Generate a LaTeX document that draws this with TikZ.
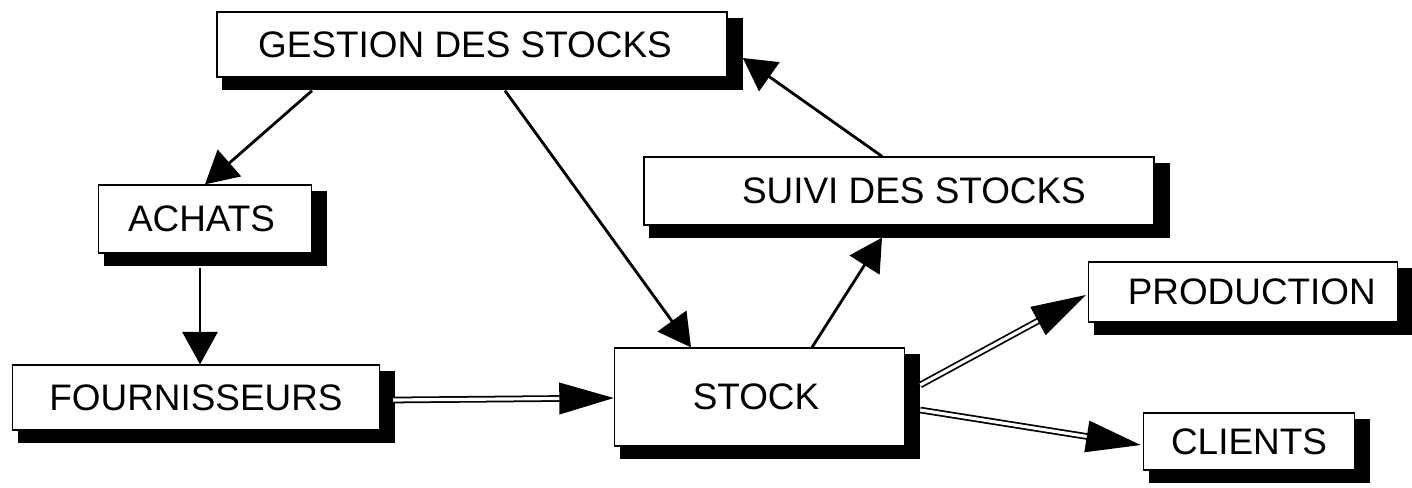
\documentclass[tikz,border=0pt]{standalone}
\usepackage{fontspec}
\setmainfont{Liberation Sans}
\usetikzlibrary{arrows.meta,calc,backgrounds}
\begin{document}
\begin{tikzpicture}[x=0.02cm,y=-0.02cm,
  box/.style={draw=black,line width=0.9pt,fill=white,inner sep=0pt,
    font=\fontsize{21}{25}\selectfont},
  arr/.style={line width=1.6pt,-{Triangle[length=18.5pt,width=20pt]}},
  dbl/.style={line width=1.0pt,double=white,double distance=1.8pt,
    -{Triangle[length=31pt,width=18pt]}},
  shad/.style={fill=black}]
\useasboundingbox (0,0) rectangle (1412,487);
\node[box,minimum width=512*0.567pt,minimum height=65*0.567pt] (g) at (472,44.5) {GESTION DES STOCKS\hspace*{8pt}};
\node[box,minimum width=214*0.567pt,minimum height=68*0.567pt] (a) at (205,219) {ACHATS\hspace*{4pt}};
\node[box,minimum width=368*0.567pt,minimum height=65*0.567pt] (f) at (196,397.5) {FOURNISSEURS};
\node[box,minimum width=291*0.567pt,minimum height=98*0.567pt] (s) at (759.5,397) {STOCK\hspace*{4pt}};
\node[box,minimum width=512*0.567pt,minimum height=68*0.567pt] (v) at (899,191) {\hspace*{17pt}SUIVI DES STOCKS};
\node[box,minimum width=310*0.567pt,minimum height=60*0.567pt] (p) at (1243,292) {\hspace*{10pt}PRODUCTION};
\node[box,minimum width=212*0.567pt,minimum height=57*0.567pt] (c) at (1249,441.5) {CLIENTS};
\begin{scope}[on background layer]
\foreach \n in {g,a,f,s,v,p,c}{
  \fill[shad] ($(\n.north west)+(6,7)$) rectangle ($(\n.south east)+(15,12)$);
}
\end{scope}
\draw[arr] ($(g.south)+(-160,13)$) -- (a.north);
\draw[arr] ($(g.south)+(33,13)$) -- ($(s.north)+(-68.5,0)$);
\draw[arr] ($(a.south)+(-5,14)$) -- ($(f.north)+(4,0)$);
\draw[arr] ($(s.north)+(52.5,0)$) -- ($(v.south)+(-17,12)$);
\draw[arr] ($(v.north)+(-17,0)$) -- ($(g.east)+(15,13.5)$);
\draw[dbl] ($(f.east)+(13,2.5)$) -- ($(s.west)+(0,1)$);
\draw[dbl] ($(s.east)+(15,-12)$) -- ($(p.west)+(-2,3)$);
\draw[dbl] ($(s.east)+(15,13)$) -- ($(c.west)+(-2,3.5)$);
\end{tikzpicture}
\end{document}
